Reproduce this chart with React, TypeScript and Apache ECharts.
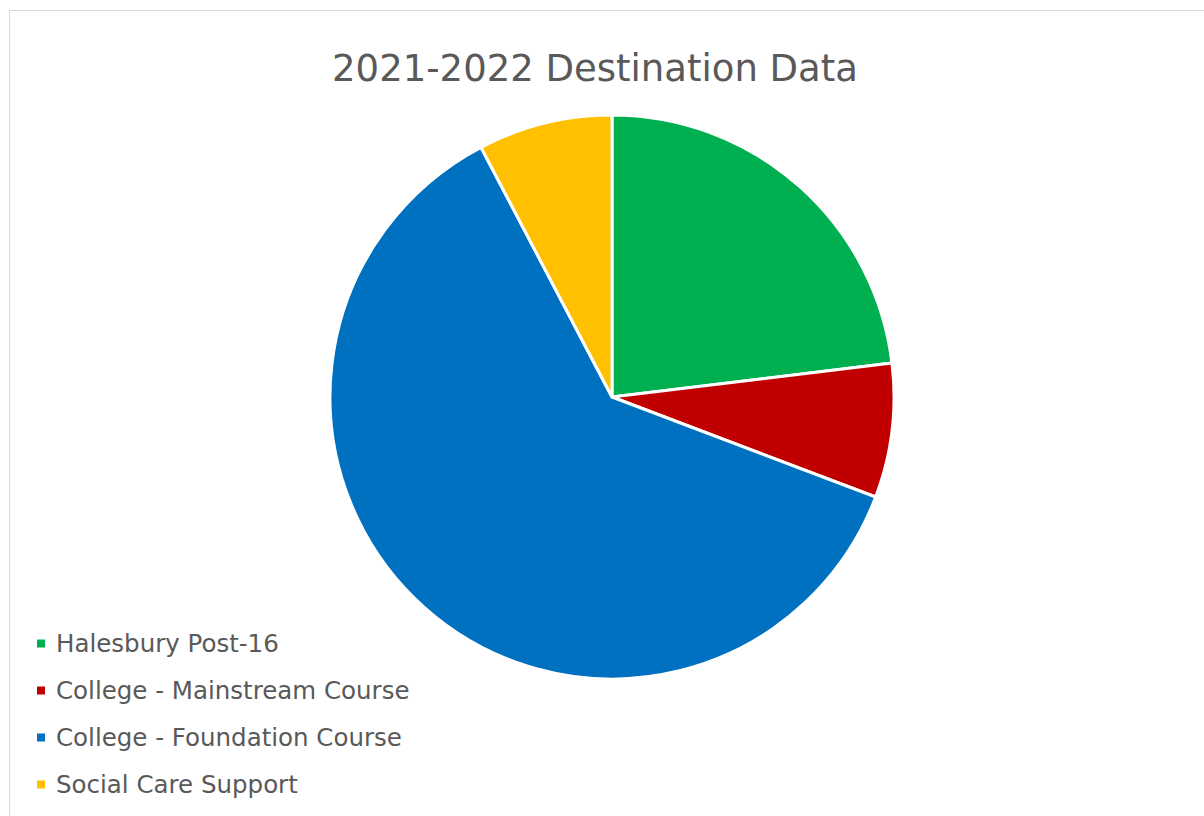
import React, { useEffect, useRef } from "react";
import * as echarts from "echarts";

const categories = [
  "Halesbury Post-16",
  "College - Mainstream Course",
  "College - Foundation Course",
  "Social Care Support",
];
const values = [3, 1, 8, 1];
const colors = ["#00B050", "#C00000", "#0070C0", "#FFC000"];
const titleText = "2021-2022 Destination Data";

export default function App() {
  const ref = useRef<HTMLDivElement>(null);
  useEffect(() => {
    if (!ref.current) return;
    const chart = echarts.init(ref.current, undefined, { renderer: "svg" });
    chart.setOption({
      animation: false,
      backgroundColor: "#ffffff",
      title: {
        text: titleText,
        left: 580,
        textAlign: "center",
        top: 34,
        textStyle: {
          fontFamily: "DejaVu Sans",
          fontSize: 37,
          fontWeight: "normal",
          color: "#595959",
        },
      },
      legend: {
        orient: "vertical",
        left: 25,
        top: 620,
        padding: 0,
        icon: "rect",
        itemWidth: 10,
        itemHeight: 10,
        itemGap: 22,
        textStyle: {
          fontFamily: "DejaVu Sans",
          fontSize: 24.5,
          lineHeight: 24,
          color: "#595959",
          padding: [0, 0, 0, 5],
        },
        data: categories,
      },
      series: [
        {
          type: "pie",
          center: [602, 386],
          radius: 282,
          startAngle: 90,
          clockwise: true,
          label: { show: false },
          labelLine: { show: false },
          emphasis: { disabled: true },
          itemStyle: { borderColor: "#ffffff", borderWidth: 3 },
          data: categories.map((name, i) => ({
            name,
            value: values[i],
            itemStyle: { color: colors[i] },
          })),
        },
      ],
    });
    return () => chart.dispose();
  }, []);
  return (
    <div
      style={{
        position: "fixed",
        left: 9,
        top: 10,
        width: 1300,
        height: 900,
        borderTop: "1px solid #d9d9d9",
        borderLeft: "1px solid #d9d9d9",
        background: "#fff",
      }}
    >
      <div ref={ref} style={{ width: 1300, height: 900 }} />
    </div>
  );
}
